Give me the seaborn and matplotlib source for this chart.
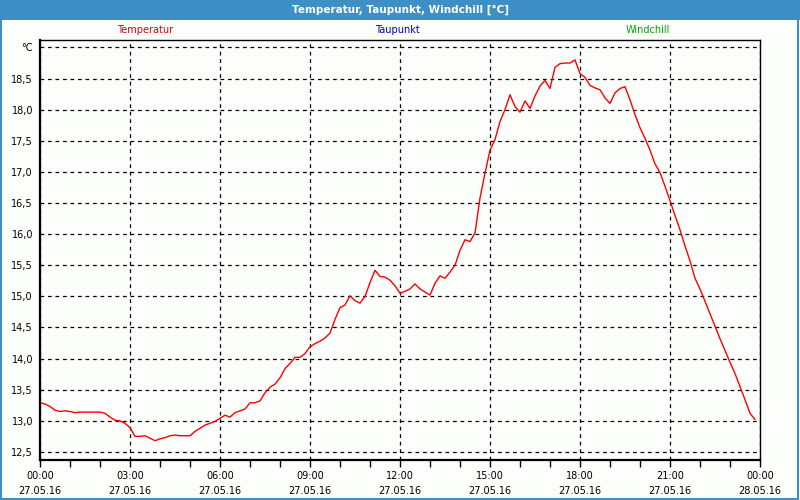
import numpy as np
import pandas as pd
import matplotlib
matplotlib.use("Agg")
import matplotlib.pyplot as plt
import seaborn as sns
from matplotlib.patches import Rectangle

# ---- data (10-minute readings, 27.05.16 00:00 .. 23:50) ----
temperatur = [
    13.29, 13.27, 13.23, 13.17, 13.15, 13.16, 13.15, 13.13, 13.14, 13.14, 13.14, 13.14,
    13.14, 13.12, 13.06, 13.01, 13.00, 12.96, 12.89, 12.75, 12.75, 12.76, 12.72, 12.68,
    12.71, 12.73, 12.76, 12.77, 12.76, 12.76, 12.76, 12.83, 12.88, 12.93, 12.96, 12.99,
    13.04, 13.09, 13.06, 13.13, 13.16, 13.19, 13.29, 13.29, 13.32, 13.45, 13.54, 13.59,
    13.69, 13.84, 13.92, 14.02, 14.02, 14.08, 14.19, 14.24, 14.28, 14.33, 14.41, 14.63,
    14.82, 14.86, 15.01, 14.93, 14.89, 15.00, 15.22, 15.42, 15.32, 15.31, 15.26, 15.17,
    15.05, 15.08, 15.12, 15.20, 15.12, 15.07, 15.02, 15.21, 15.33, 15.29, 15.39, 15.50,
    15.74, 15.91, 15.88, 16.02, 16.58, 16.98, 17.35, 17.52, 17.81, 18.00, 18.24, 18.05,
    17.96, 18.14, 18.02, 18.22, 18.38, 18.47, 18.34, 18.68, 18.74, 18.75, 18.75, 18.80,
    18.58, 18.52, 18.39, 18.35, 18.32, 18.19, 18.10, 18.27, 18.34, 18.37, 18.16, 17.92,
    17.71, 17.54, 17.35, 17.13, 16.99, 16.77, 16.54, 16.30, 16.07, 15.81, 15.57, 15.29,
    15.12, 14.92, 14.72, 14.52, 14.32, 14.13, 13.94, 13.76, 13.55, 13.34, 13.12, 13.02,
]
stunden = [i / 6 for i in range(len(temperatur))]

x_tick_hours = [0, 3, 6, 9, 12, 15, 18, 21, 24]
x_tick_labels = ["00:00\n27.05.16", "03:00\n27.05.16", "06:00\n27.05.16",
                 "09:00\n27.05.16", "12:00\n27.05.16", "15:00\n27.05.16",
                 "18:00\n27.05.16", "21:00\n27.05.16", "00:00\n28.05.16"]
y_ticks = [12.5, 13.0, 13.5, 14.0, 14.5, 15.0, 15.5, 16.0, 16.5, 17.0, 17.5, 18.0, 18.5, 19.0]
y_tick_labels = ["12,5", "13,0", "13,5", "14,0", "14,5", "15,0", "15,5", "16,0",
                 "16,5", "17,0", "17,5", "18,0", "18,5", "°C"]

title = "Temperatur, Taupunkt, Windchill [°C]"
legend_names = ["Temperatur", "Taupunkt", "Windchill"]
legend_colors = ["#e00000", "#0000c8", "#00a800"]

df = pd.DataFrame({"stunde": stunden, "temperatur": temperatur})

# ---- figure ----
sns.set_style("white")
plt.rcParams["font.family"] = ["DejaVu Sans"]
plt.rcParams["text.color"] = "black"
plt.rcParams["xtick.color"] = "black"
plt.rcParams["ytick.color"] = "black"

bg = "#fbfefb"
bar_blue = "#3d8fc6"
fig = plt.figure(figsize=(8, 5), dpi=100, facecolor=bg)

# title bar and frame
fig.patches.append(Rectangle((0, 0.96), 1, 0.04, transform=fig.transFigure,
                             facecolor=bar_blue, edgecolor="none", zorder=0))
fig.patches.append(Rectangle((0.001, 0.002), 0.997, 0.996, transform=fig.transFigure,
                             facecolor="none", edgecolor=bar_blue, linewidth=1.5, zorder=0))
fig.text(0.5, 0.98, title, ha="center", va="center", color="white",
         fontsize=7.5, fontweight="bold")

xs = [145 / 800, 397 / 800, 648 / 800]
for xp, name, col in zip(xs, legend_names, legend_colors):
    fig.text(xp, 1 - 30 / 500, name, ha="center", va="center", color=col, fontsize=7)

ax = fig.add_axes([40 / 800, 40 / 500, 720 / 800, 420 / 500])
ax.set_facecolor(bg)

sns.lineplot(data=df, x="stunde", y="temperatur", ax=ax, color="#ff0000",
             linewidth=1.0, legend=False)

ax.set_xlim(0, 24)
ax.set_ylim(12.37, 19.12)
ax.set_xticks(x_tick_hours)
ax.set_xticklabels(x_tick_labels, fontsize=7, linespacing=1.6, color="black")
ax.set_xticks(list(range(25)), minor=True)
ax.set_yticks(y_ticks)
ax.set_yticklabels(y_tick_labels, fontsize=7, color="black")
ax.set_xlabel("")
ax.set_ylabel("")

ax.tick_params(axis="x", which="both", direction="out", length=5, width=1,
               color="black", pad=3, bottom=True)
ax.tick_params(axis="y", which="both", length=0, pad=5, left=True)

ax.grid(True, which="major", color="black", linestyle=(0, (3, 3)), linewidth=0.9)
ax.set_axisbelow(True)

for side in ["left", "bottom"]:
    ax.spines[side].set_linewidth(1.6)
    ax.spines[side].set_color("black")
for side in ["top", "right"]:
    ax.spines[side].set_linewidth(1.0)
    ax.spines[side].set_color("black")
    ax.spines[side].set_visible(True)

fig.savefig("out.png", dpi=100, facecolor=bg)
